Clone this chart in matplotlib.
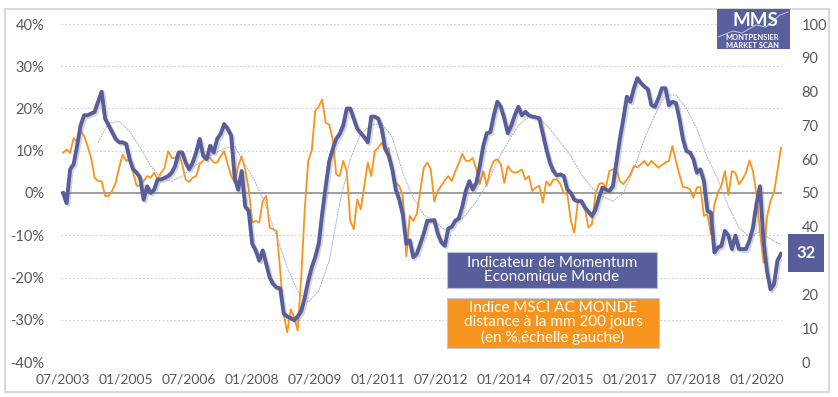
import numpy as np
import matplotlib
matplotlib.use("Agg")
import matplotlib.pyplot as plt
import matplotlib.patheffects as pe
from matplotlib.patches import Rectangle
from matplotlib.lines import Line2D

plt.rcParams['font.family'] = ['Lato', 'DejaVu Sans']

# x axis labels, one every 18 months starting 07/2003
tick_labels = ['07/2003', '01/2005', '07/2006', '01/2008', '07/2009', '01/2011',
               '07/2012', '01/2014', '07/2015', '01/2017', '07/2018', '01/2020']

# Indicateur de Momentum Economique Monde (echelle droite), monthly 07/2003 -> 08/2020
momentum = [
    50, 47, 57, 58.5, 64, 70, 73, 73, 73.5, 74,
    77, 80, 72, 70, 68, 66, 65, 65, 64.5, 60,
    57, 56, 54.5, 48, 52, 50, 51, 54, 54, 54.5,
    55, 56, 58, 62, 62, 59, 57, 59, 62, 66,
    61, 60, 64, 62, 66, 67.5, 70.4, 69, 67, 54.5,
    51, 56.5, 46, 44.7, 35, 33, 30, 33, 29, 25,
    23, 22, 21.8, 14.3, 13.5, 13, 12.4, 13.5, 15, 19,
    24, 28, 31, 35, 44, 52, 59.4, 63, 66, 67.5,
    70, 75, 75, 72, 69, 67.7, 66.5, 65, 72.6, 72.6,
    72, 69, 63, 61, 57, 51, 48, 43.7, 35, 36,
    31, 32, 35, 38, 41.8, 41.8, 42, 38, 35.4, 34.4,
    39.5, 40, 41.8, 42.5, 46, 50.6, 53.5, 51, 53, 58,
    64, 67.7, 68, 73, 77, 75.5, 72, 67.7, 70, 73,
    75.5, 73, 74, 73, 72.6, 72.4, 72.1, 67.5, 63, 59,
    56.5, 55.2, 55.5, 55, 51, 50, 48, 47.6, 47.6, 45.7,
    44.5, 43.2, 45, 48.5, 51.6, 51, 50.6, 52, 59, 66,
    72, 78.5, 77, 81, 84, 82.5, 81.5, 80.7, 76, 75.5,
    78, 81, 81, 76, 77, 76.6, 72, 66, 62.4, 62,
    60, 56, 57, 53.5, 44.7, 44.2, 32.4, 33.9, 34.4, 38.8,
    37.4, 33.4, 37.4, 33.4, 33.4, 33.4, 35.9, 39.8, 46.7, 52,
    36, 27, 21.5, 23, 30, 32,
]

# Indice MSCI AC Monde, distance a la mm 200 jours (%, echelle gauche)
msci = [
    9.5, 10.3, 9.5, 13, 12, 14.7, 13.5, 11.1, 8.3, 3.6,
    2.8, 2.8, -0.7, -0.7, 0.5, 2.4, 6, 9.1, 7.6, 8,
    4.8, 1.7, 1.7, 2.8, 4, 3.6, 4.8, 3.2, 4.8, 6,
    9.9, 8.3, 8.3, 9.5, 6.8, 3.2, 2.6, 3.6, 4, 6.8,
    7.6, 8.7, 8.3, 7.2, 7.2, 8.7, 9.9, 6.8, 4, 2.4,
    6.4, 8.7, 5.6, 0.9, -7, -6.6, -7, -1.9, -0.7, -8.2,
    -8.6, -9, -18.4, -28.7, -33, -27.5, -29.5, -32.6, -20, -4,
    7.6, 10, 19.4, 20.5, 22.1, 16.6, 16.2, 12.7, 4.4, 4,
    7.6, 5.2, -6.6, -8.6, -1.5, -3.9, 1.7, 7.2, 4, 9.9,
    10.7, 11.9, 9.9, 10.7, 5.2, 2.4, 1.7, -0.7, -15, -5.4,
    -6.6, -5, 0.5, 6, 7.2, 5.6, -2, 0.5, 1.7, 3,
    4, 2.8, 5.2, 7, 9.3, 7.6, 7.6, 8.3, 5.6, 2.1,
    5.2, 1.7, 5.6, 7.6, 8, 6.8, 2.4, 6.4, 5.2, 4.8,
    5, 5.6, 3.2, 4, 0.5, 1.3, 1.7, -2.3, 2.8, 1.7,
    3.2, 3.2, 2.1, 0, -0.3, -6.6, -9.4, -1.9, -1.9, -3.5,
    -8.2, -7.4, -0.3, 2.1, 2.4, 1.3, 5.2, 5.6, 5.6, 2.8,
    2.1, 3.2, 4.4, 6.4, 6.1, 6.8, 7.6, 6.4, 7.6, 6.8,
    6, 6.6, 7.2, 7.6, 11.1, 7.6, 4.4, 1.4, 1.3, 0.9,
    -1.1, 1.3, 1.4, -5.4, -5, -9.8, -2.7, 0.1, 1.7, 5.2,
    -0.5, 5.2, 4.8, 2.1, 3.2, 4.8, 7.7, 5.2, -0.3, -9,
    -16.5, -5.8, -1.9, 0.1, 5.2, 10.7,
]

# moyenne mobile du momentum, read every 3 months from 05/2004
momentum_ma = [
    65, 70.7, 71.2, 68.2, 63.5, 58, 54.3, 53.5, 55, 57.6,
    59.7, 61.7, 63.2, 63.8, 58.5, 53, 46, 37, 28, 21,
    17.7, 21, 30, 47, 60, 67.5, 70, 70.7, 66.5, 56,
    48.5, 43.5, 41.8, 39, 41, 43.5, 47.5, 52.5, 59.5, 65,
    70, 72.5, 72.1, 69, 65, 61, 55.5, 51.5, 49, 47.6,
    50, 57, 66, 73, 79, 79, 75, 69, 60.5, 54,
    46, 39.8, 36.9, 38.6, 36.3, 34.8,
]

blue = '#585e9b'
orange = '#f7941d'
grey_txt = '#595959'

months = np.arange(len(momentum))
ma_months = np.arange(10, len(momentum), 3)

fig = plt.figure(figsize=(8.38, 3.97), dpi=100)
W, H = 838, 397

def fx(px):
    return px / W

def fy(py):
    return 1 - py / H

ax = fig.add_axes([fx(61), fy(362), fx(782 - 61), (362 - 24) / H])
ax2 = ax.twinx()

# grid + zero line
for v in range(-40, 50, 10):
    if v == 0:
        ax.axhline(0, color='#8c8c8c', lw=1.2, zorder=1)
    else:
        ax.axhline(v, color='#cfcfcf', lw=0.8, ls=(0, (1.5, 2)), zorder=0)

ax.plot(months, msci, color=orange, lw=1.3, zorder=3)
ax2.plot(ma_months, momentum_ma, color='#a9afd2', lw=0.7, ls=(0, (2, 0.8)))
ax2.plot(months, momentum, color=blue, lw=2.8, solid_joinstyle='round',
         path_effects=[pe.SimpleLineShadow(offset=(1.2, -1.2), shadow_color='#888888', alpha=0.35),
                       pe.Normal()])

ax.set_xlim(-0.6, 205.3)
ax.set_ylim(-40, 40)
ax2.set_ylim(0, 100)
ax.set_yticks(range(-40, 50, 10))
ax.set_yticklabels([f'{v}%' for v in range(-40, 50, 10)])
ax2.set_yticks(range(0, 110, 10))
# the "30" label sits under the last-value box
ax2.set_yticklabels(['' if v == 30 else str(v) for v in range(0, 110, 10)])
ax.set_xticks(months[::18])
ax.set_xticklabels(tick_labels)

for a in (ax, ax2):
    for s in a.spines.values():
        s.set_visible(False)
    a.tick_params(length=0, labelsize=10.5, labelcolor=grey_txt)
ax.tick_params(axis='x', labelsize=10)
ax.tick_params(axis='y', pad=12)
ax.tick_params(axis='x', pad=8)
ax2.tick_params(axis='y', pad=14)

# outer frame
fig.patches.append(Rectangle((fx(5), fy(392)), fx(829 - 5), (392 - 9) / H,
                             transform=fig.transFigure, fill=False,
                             ec='#d9d9d9', lw=1.5))

# legend boxes
fig.patches.append(Rectangle((fx(447), fy(288)), fx(210), 36 / H,
                             transform=fig.transFigure, fc=blue, ec='#b9bfdc', lw=0.8))
fig.text(fx(552), fy(270), 'Indicateur de Momentum\nEconomique Monde', color='white',
         fontsize=11, ha='center', va='center', linespacing=1.05)
fig.patches.append(Rectangle((fx(447), fy(348)), fx(212), 50 / H,
                             transform=fig.transFigure, fc=orange, ec='#b9c9e6', lw=0.8))
fig.text(fx(553), fy(323), 'Indice MSCI AC MONDE\ndistance à la mm 200 jours\n(en %,échelle gauche)',
         color='white', fontsize=11, ha='center', va='center', linespacing=1.0)

# last value box
fig.patches.append(Rectangle((fx(788), fy(272)), fx(36), 38 / H,
                             transform=fig.transFigure, fc=blue, ec='none'))
fig.text(fx(806), fy(253), f'{momentum[-1]:.0f}', color='white', fontsize=12,
         fontweight='bold', ha='center', va='center')

# MMS logo
fig.patches.append(Rectangle((fx(717), fy(49)), fx(73), 40 / H,
                             transform=fig.transFigure, fc='#5a5f9d', ec='none'))
lx = [718, 733, 742, 756, 766, 780, 788]
ly = [37, 31, 33, 25, 27, 15, 12]
fig.add_artist(Line2D([fx(v) for v in lx], [fy(v) for v in ly], transform=fig.transFigure,
                      color='#a9bde6', lw=0.8))
fig.text(fx(755), fy(20), 'MMS', color='white', fontsize=13.5, fontweight='bold',
         ha='center', va='center')
fig.text(fx(752), fy(38), 'MONTPENSIER', color='white', fontsize=5.4, fontweight='bold',
         ha='center', va='center')
fig.text(fx(752), fy(45), 'MARKET SCAN', color='white', fontsize=5.4, fontweight='bold',
         ha='center', va='center')

fig.savefig('out.png', dpi=100, facecolor='white')
